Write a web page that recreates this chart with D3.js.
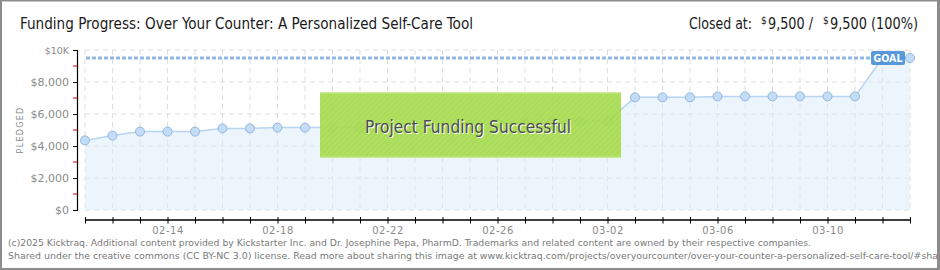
<!DOCTYPE html>
<html><head><meta charset="utf-8">
<script src="https://cdn.jsdelivr.net/npm/d3@7"></script>
<style>
html,body{margin:0;padding:0;background:#fff;}
svg{display:block;font-family:"DejaVu Sans Condensed","DejaVu Sans",sans-serif;}
</style></head>
<body><svg id="c" width="940" height="270"></svg>
<script>
const dates = ["2025-02-11","2025-02-12","2025-02-13","2025-02-14","2025-02-15","2025-02-16","2025-02-17","2025-02-18","2025-02-19","2025-02-20","2025-02-21","2025-02-22","2025-02-23","2025-02-24","2025-02-25","2025-02-26","2025-02-27","2025-02-28","2025-03-01","2025-03-02","2025-03-03","2025-03-04","2025-03-05","2025-03-06","2025-03-07","2025-03-08","2025-03-09","2025-03-10","2025-03-11","2025-03-12","2025-03-13"];
const pledged = [4350,4650,4900,4900,4900,5100,5100,5150,5150,5150,5150,5150,5200,5250,5300,5400,5450,5540,5540,5540,7040,7040,7040,7100,7100,7100,7100,7100,7100,9500,9500];
const goal = 9500;
const yTicks = [0,2000,4000,6000,8000,10000];
const yMinorTicks = [1000,3000,5000,7000,9000];
const xLabelDates = ["2025-02-14","2025-02-18","2025-02-22","2025-02-26","2025-03-02","2025-03-06","2025-03-10"];
const title = "Funding Progress: Over Your Counter: A Personalized Self-Care Tool";
const bannerText = "Project Funding Successful";
const footer1 = "(c)2025 Kicktraq. Additional content provided by Kickstarter Inc. and Dr. Josephine Pepa, PharmD. Trademarks and related content are owned by their respective companies.";
const footer2 = "Shared under the creative commons (CC BY-NC 3.0) license. Read more about sharing this image at www.kicktraq.com/projects/overyourcounter/over-your-counter-a-personalized-self-care-tool/#sha";

const svg = d3.select("#c");
const parse = d3.utcParse("%Y-%m-%d");
const data = dates.map((d,i)=>({date:parse(d), v:pledged[i]}));

const x = d3.scaleUtc().domain([parse(dates[0]), parse(dates[dates.length-1])]).range([85,910]);
const y = d3.scaleLinear().domain([0,10000]).range([210,50]);

// frame
svg.append("rect").attr("x",1).attr("y",0.5).attr("width",937.5).attr("height",268.5)
  .attr("fill","#fff").attr("stroke","#8c8c8c").attr("stroke-width",2);

// defs
const defs = svg.append("defs");
const pat = defs.append("pattern").attr("id","hatch").attr("width",4).attr("height",4)
  .attr("patternUnits","userSpaceOnUse").attr("patternTransform","rotate(45)");
pat.append("rect").attr("width",4).attr("height",4).attr("fill","#a9dd52");
pat.append("line").attr("x1",0).attr("y1",0).attr("x2",0).attr("y2",4).attr("stroke","#9fd447").attr("stroke-width",1.5);

// grid
const days = d3.utcDay.range(x.domain()[0], d3.utcDay.offset(x.domain()[1],1));
svg.append("g").selectAll("line").data(days).join("line")
  .attr("x1",d=>x(d)).attr("x2",d=>x(d)).attr("y1",50).attr("y2",210)
  .attr("stroke","#dedede").attr("stroke-dasharray","5,4");
svg.append("g").selectAll("line").data(yTicks).join("line")
  .attr("x1",85).attr("x2",910).attr("y1",d=>y(d)).attr("y2",d=>y(d))
  .attr("stroke","#dedede").attr("stroke-dasharray","5,4");

// area + line
svg.append("path").datum(data)
  .attr("d", d3.area().x(d=>x(d.date)).y0(y(0)).y1(d=>y(d.v)))
  .attr("fill","#dcebfa").attr("fill-opacity",0.55);
svg.append("path").datum(data)
  .attr("d", d3.line().x(d=>x(d.date)).y(d=>y(d.v)))
  .attr("fill","none").attr("stroke","#b7d5f2").attr("stroke-width",1.5);

// goal line
svg.append("line").attr("x1",86).attr("x2",872).attr("y1",y(goal)).attr("y2",y(goal))
  .attr("stroke","#92b8e2").attr("stroke-width",3).attr("stroke-dasharray","4,2");

// points
svg.append("g").selectAll("circle").data(data).join("circle")
  .attr("cx",d=>x(d.date)).attr("cy",d=>y(d.v)).attr("r",4.5)
  .attr("fill","#c4ddf7").attr("stroke","#93b5dc").attr("stroke-width",1);

// GOAL label
const gx = 871, gy = y(goal);
svg.append("rect").attr("x",gx).attr("y",gy-7).attr("width",34).attr("height",14).attr("rx",2)
  .attr("fill","#4a8fd8").attr("fill-opacity",0.92);
svg.append("text").attr("x",gx+17).attr("y",gy+4).attr("text-anchor","middle")
  .attr("fill","#fff").attr("font-size",10.5).attr("font-weight","bold").text("GOAL");

// Banner
svg.append("rect").attr("x",320).attr("y",92.5).attr("width",301).attr("height",65)
  .attr("fill","url(#hatch)").attr("fill-opacity",0.93);
svg.append("line").attr("x1",320).attr("x2",621).attr("y1",93).attr("y2",93).attr("stroke","#c4ea88");
svg.append("line").attr("x1",320).attr("x2",621).attr("y1",157).attr("y2",157).attr("stroke","#c4ea88");
svg.append("text").attr("x",469).attr("y",133.5).attr("text-anchor","middle")
  .attr("font-size",17).attr("fill","#fff").attr("textLength",206).attr("lengthAdjust","spacingAndGlyphs")
  .text(bannerText);
svg.append("text").attr("x",468).attr("y",132.5).attr("text-anchor","middle")
  .attr("font-size",17).attr("fill","#4d4d4d").attr("textLength",206).attr("lengthAdjust","spacingAndGlyphs")
  .text(bannerText);

// Y axis
const yAxis = d3.axisLeft(y).tickValues(yTicks).tickSizeInner(4).tickSizeOuter(0).tickPadding(4)
  .tickFormat(d=> d===10000 ? "$10K" : "$"+d3.format(",")(d));
const ya = svg.append("g").attr("transform","translate(77,0)").call(yAxis);
ya.select(".domain").attr("stroke","#000").attr("stroke-width",1.2);
ya.selectAll(".tick line").attr("stroke","#000").attr("x2",-4).attr("x1",1);
ya.selectAll(".tick text").attr("fill","#8a8a8a").attr("font-size",11).attr("font-family","DejaVu Sans");
ya.selectAll(".tick text").filter(d=>d===10000).attr("font-size",9.5);
svg.append("g").selectAll("line").data(yMinorTicks).join("line")
  .attr("x1",73).attr("x2",77).attr("y1",d=>y(d)).attr("y2",d=>y(d))
  .attr("stroke","#e00000").attr("stroke-width",1);

svg.append("text").attr("transform","translate(23,130) rotate(-90)").attr("text-anchor","middle")
  .attr("font-size",9).attr("fill","#888").attr("letter-spacing",1.2).text("PLEDGED");

// X axis
const labelSet = new Set(xLabelDates);
const fmt = d3.utcFormat("%Y-%m-%d");
const xAxis = d3.axisBottom(x).tickValues(days).tickSizeInner(3).tickSizeOuter(0).tickPadding(4)
  .tickFormat(d=> labelSet.has(fmt(d)) ? d3.utcFormat("%m-%d")(d) : "");
const xa = svg.append("g").attr("transform","translate(0,220)").call(xAxis);
xa.select(".domain").remove();
xa.append("line").attr("x1",85).attr("x2",910).attr("stroke","#000").attr("stroke-width",1.3);
xa.selectAll(".tick line").attr("stroke","#000").attr("y1",-3).attr("y2",3.5);
xa.selectAll(".tick text").attr("fill","#8a8a8a").attr("font-size",10).attr("font-family","DejaVu Sans")
  .attr("letter-spacing",0.5);

// Title
svg.append("text").attr("x",20).attr("y",29).attr("font-size",16).attr("fill","#1a1a1a")
  .attr("textLength",453).attr("lengthAdjust","spacingAndGlyphs").text(title);

// Closed at (separate pieces)
const hdr = svg.append("g").attr("fill","#1a1a1a");
hdr.append("text").attr("x",689).attr("y",29).attr("font-size",16)
  .attr("textLength",63).attr("lengthAdjust","spacingAndGlyphs").text("Closed at:");
hdr.append("text").attr("x",761).attr("y",24).attr("font-size",10).text("$");
hdr.append("text").attr("x",768).attr("y",29).attr("font-size",16)
  .attr("textLength",45).attr("lengthAdjust","spacingAndGlyphs").text("9,500 /");
hdr.append("text").attr("x",823).attr("y",24).attr("font-size",10).text("$");
hdr.append("text").attr("x",830).attr("y",29).attr("font-size",16)
  .attr("textLength",88).attr("lengthAdjust","spacingAndGlyphs").text("9,500 (100%)");

// Footer
svg.append("text").attr("x",8).attr("y",246).attr("font-size",9.5).attr("fill","#7a7a7a")
  .attr("textLength",803).attr("lengthAdjust","spacingAndGlyphs").text(footer1);
svg.append("text").attr("x",8).attr("y",259).attr("font-size",9.5).attr("fill","#7a7a7a")
  .attr("textLength",930).attr("lengthAdjust","spacingAndGlyphs").text(footer2);
svg.append("rect").attr("x",937).attr("y",0).attr("width",3).attr("height",270).attr("fill","#8c8c8c");
</script></body></html>
